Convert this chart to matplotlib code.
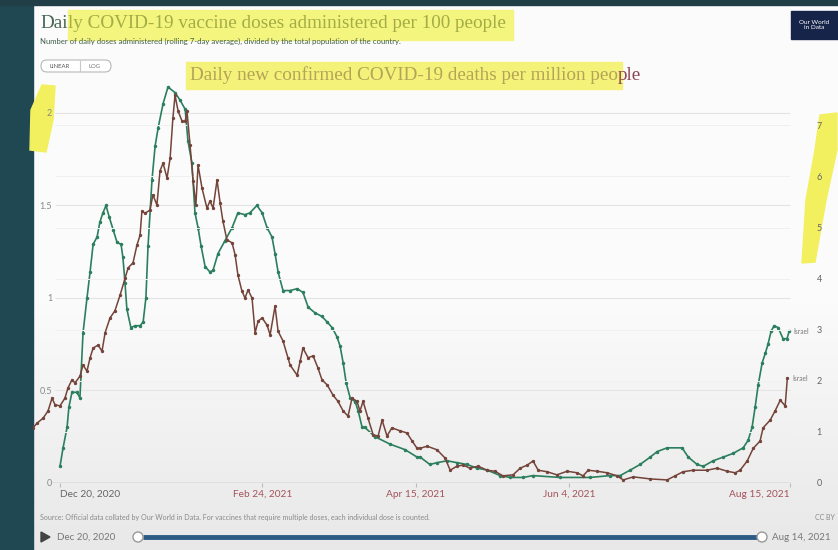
import numpy as np
import matplotlib.pyplot as plt
from matplotlib.patches import Rectangle, Polygon, FancyBboxPatch, Circle

W, H = 838, 550

# x values are days since Dec 20, 2020
vax_days = [0, 1.0, 2.3, 2.9, 3.9, 5.5, 6.5, 7.5, 8.8, 9.8, 10.8, 12.1, 13.0, 14.0, 15.0,
            16.0, 17.3, 18.6, 19.9, 20.5, 21.2, 21.8, 23.1, 24.5, 26.1, 27.1, 28.0, 28.7,
            30.0, 31.0, 32.0, 33.6, 35.2, 37.5, 39.1, 40.8, 41.7, 43.0, 44.0, 45.0, 46.0,
            47.3, 48.9, 49.9, 51.5, 53.8, 56.1, 58.0, 60.3, 61.9, 64.2, 65.9, 67.5, 69.1,
            70.1, 71.1, 72.7, 75.0, 77.3, 79.2, 80.9, 83.1, 85.4, 87.1, 88.7, 90.3, 91.3,
            92.3, 93.3, 94.6, 96.2, 97.2, 98.5, 99.4, 102.7, 107.6, 112.5, 116.4, 117.4,
            120.6, 122.9, 126.2, 129.4, 132.7, 136.0, 139.2, 143.5, 146.7, 151.0, 154.2,
            163.0, 172.8, 179.3, 182.6, 185.9, 189.1, 192.4, 194.7, 197.9, 202.8, 204.8,
            207.7, 209.7, 212.9, 216.2, 219.4, 222.7, 224.3, 225.6, 226.6, 227.6, 228.9,
            229.9, 230.8, 231.8, 232.8, 234.1, 235.7, 237.0, 237.7]
vax_doses = [0.09, 0.19, 0.30, 0.41, 0.49, 0.49, 0.46, 0.81, 1.00, 1.14, 1.29, 1.33, 1.41, 1.46, 1.50,
             1.44, 1.37, 1.30, 1.29, 1.22, 1.08, 0.94, 0.84, 0.85, 0.85, 0.87, 1.00, 1.28,
             1.64, 1.82, 1.92, 2.05, 2.14, 2.11, 2.07, 2.02, 1.85, 1.73, 1.46, 1.38, 1.28,
             1.17, 1.14, 1.15, 1.24, 1.31, 1.38, 1.46, 1.45, 1.46, 1.50, 1.46, 1.38, 1.33,
             1.24, 1.14, 1.04, 1.04, 1.05, 1.03, 0.95, 0.92, 0.90, 0.87, 0.84, 0.79, 0.74,
             0.65, 0.54, 0.46, 0.44, 0.39, 0.30, 0.30, 0.25, 0.21, 0.18, 0.14, 0.14,
             0.10, 0.11, 0.12, 0.11, 0.10, 0.08, 0.07, 0.04, 0.03, 0.03, 0.04,
             0.03, 0.03, 0.04, 0.04, 0.07, 0.10, 0.14, 0.17, 0.19, 0.19, 0.14,
             0.10, 0.09, 0.12, 0.14, 0.16, 0.19, 0.23, 0.30, 0.41, 0.53, 0.65,
             0.70, 0.75, 0.82, 0.85, 0.84, 0.78, 0.78, 0.82]

death_days = [-8.8, -7.5, -5.5, -3.9, -2.6, -1.6, 0, 1.6, 2.6, 3.9, 4.9, 6.5, 7.5, 8.8, 9.8,
              10.8, 12.4, 13.7, 14.7, 16.3, 17.9, 19.6, 21.2, 22.2, 23.8, 25.1, 26.1, 26.7,
              27.7, 29.3, 30.3, 31.6, 32.6, 33.6, 34.9, 35.9, 36.8, 37.5, 38.5, 39.8, 40.8,
              41.4, 42.4, 43.4, 44.3, 45.0, 46.3, 47.9, 48.9, 49.9, 51.2, 52.2, 53.1, 54.4,
              56.1, 57.1, 58.0, 59.3, 60.3, 61.3, 62.6, 63.6, 64.6, 65.9, 67.5, 68.5, 70.1,
              71.1, 72.7, 74.3, 75.0, 77.3, 78.3, 79.2, 80.9, 82.5, 84.1, 85.4, 87.1, 89.0,
              90.6, 92.3, 93.9, 95.2, 96.8, 97.8, 98.8, 100.4, 102.1, 103.7, 105.0, 106.6,
              108.2, 110.9, 113.1, 114.8, 116.4, 117.4, 119.7, 122.9, 125.5, 127.2, 129.4,
              131.4, 133.7, 136.3, 139.2, 141.8, 144.4, 147.7, 150.0, 152.3, 154.2, 155.9,
              158.8, 162.0, 165.3, 168.6, 170.5, 172.2, 175.1, 178.4, 181.6, 183.6, 186.9,
              192.4, 197.9, 200.5, 203.1, 206.4, 210.9, 214.2, 217.5, 220.1, 221.7, 224.0,
              226.0, 228.2, 229.2, 231.5, 233.1, 234.8, 236.4, 237.1]
deaths = [1.08, 1.17, 1.27, 1.41, 1.66, 1.53, 1.51, 1.66, 1.86, 2.02, 1.96, 2.09, 2.31, 2.19, 2.45,
          2.64, 2.70, 2.58, 2.94, 3.23, 3.37, 3.68, 4.01, 4.21, 4.31, 4.66, 4.85, 5.32,
          5.28, 5.34, 5.64, 5.44, 6.11, 6.26, 5.97, 6.36, 7.14, 7.59, 7.28, 7.08, 7.08,
          7.28, 6.61, 5.91, 5.44, 6.22, 5.77, 5.38, 5.52, 5.38, 5.93, 5.48, 5.13, 4.76,
          4.70, 4.46, 4.07, 3.76, 3.62, 3.78, 3.62, 2.94, 3.17, 3.23, 3.09, 2.90, 3.46,
          2.97, 2.78, 2.45, 2.31, 2.11, 2.39, 2.64, 2.45, 2.49, 2.25, 2.02, 1.92, 1.72,
          1.60, 1.41, 1.31, 1.66, 1.60, 1.41, 1.60, 1.27, 0.94, 0.92, 1.23, 0.92,
          1.08, 1.02, 0.98, 0.82, 0.68, 0.68, 0.72, 0.65, 0.49, 0.25, 0.33,
          0.35, 0.29, 0.33, 0.25, 0.23, 0.14, 0.16, 0.29, 0.35, 0.43, 0.25,
          0.22, 0.16, 0.23, 0.20, 0.14, 0.25, 0.23, 0.20, 0.14, 0.06, 0.12,
          0.08, 0.06, 0.14, 0.22, 0.25, 0.25, 0.29, 0.23, 0.20, 0.25, 0.43,
          0.68, 0.82, 1.08, 1.23, 1.41, 1.62, 1.51, 2.05]

tick_days = [0, 66, 116, 166, 238]
tick_labels = ["Dec 20, 2020", "Feb 24, 2021", "Apr 15, 2021", "Jun 4, 2021", "Aug 15, 2021"]
left_ticks = [0, 0.5, 1, 1.5, 2]
left_labels = ["0", "0.5", "1", "1.5", "2"]
right_ticks = [0, 1, 2, 3, 4, 5, 6, 7]

green = '#2b7f5e'
brown = '#74443a'

fig = plt.figure(figsize=(W / 100, H / 100), dpi=100)

# background drawn in pixel coordinates
bg = fig.add_axes([0, 0, 1, 1], zorder=-10)
bg.set_xlim(0, W)
bg.set_ylim(H, 0)
bg.axis('off')
shade = np.ones((H, 1))
rows = np.arange(H)
shade[:, 0] = np.where(rows < 300, 0.985, 0.985 - (rows - 300) / 250 * 0.075)
bg.imshow(np.dstack([shade, shade, shade]), extent=[0, W, H, 0], aspect='auto', zorder=0)
bg.add_patch(Rectangle((0, 0), 33, H, color='#1f4853', zorder=1))
bg.add_patch(Rectangle((0, 0), W, 5, color='#213d46', zorder=1))

# highlighter marks
bg.add_patch(Rectangle((68, 10), 445, 30, color='#f4f57e', zorder=1))
bg.add_patch(Rectangle((186, 62), 436, 27, color='#f5f27a', zorder=1))
bg.add_patch(Polygon([(42, 85), (55, 86), (53, 120), (46, 152), (30, 150), (31, 110)],
                     color='#f2f05e', zorder=2))
bg.add_patch(Polygon([(820, 115), (837, 113), (837, 150), (826, 200), (815, 262), (802, 263),
                      (806, 200), (815, 150)], color='#f2f05e', zorder=2))

serif = 'Liberation Serif'
head = bg.text(40, 23, "Dai", family=serif, fontsize=13.8, color='#45654f', va='center', zorder=4)
bg.annotate("ly COVID-19 vaccine doses administered per 100 people", xy=(1, 0.5), xycoords=head,
            va='center', family=serif, fontsize=13.8, color='#a3ad45', zorder=4)
bg.text(40, 41, "Number of daily doses administered (rolling 7-day average), divided by the total "
        "population of the country.", family='Lato', fontsize=5.6, color='#3f5d49',
        va='center', zorder=3)

head2 = bg.text(190, 75, "Daily new confirmed COVID-19 deaths per million peo", family=serif,
                fontsize=13.8, color='#b4a457', va='center', zorder=4)
bg.annotate("ple", xy=(1, 0.5), xycoords=head2, va='center', family=serif, fontsize=13.8,
            color='#8e4553', zorder=4)

# linear / log toggle
bg.add_patch(FancyBboxPatch((41, 60), 70, 12, boxstyle='round,pad=0,rounding_size=6',
                            fc='white', ec='#b8b8b8', lw=0.8, zorder=3))
bg.plot([80, 80], [61, 71], color='#c8c8c8', lw=0.8, zorder=4)
bg.text(60, 66, "LINEAR", family='Lato', fontsize=4.3, color='#555', ha='center', va='center', zorder=4)
bg.text(95, 66, "LOG", family='Lato', fontsize=4.3, color='#777', ha='center', va='center', zorder=4)

# logo
bg.add_patch(Rectangle((791, 11), 47, 28, color='#17244a', zorder=3))
bg.text(814, 25, "Our World\nin Data", family='Lato', fontsize=4.6, color='white',
        ha='center', va='center', linespacing=1.0, zorder=4)

# footer
bg.text(40, 517, "Source: Official data collated by Our World in Data. For vaccines that require "
        "multiple doses, each individual dose is counted.", family='Lato', fontsize=5.1,
        color='#8a8a8a', va='center', zorder=3)
bg.text(815, 517, "CC BY", family='Lato', fontsize=5, color='#8a8a8a', va='center', zorder=3)
bg.add_patch(Polygon([(41, 532), (41, 542), (50, 537)], color='#444', zorder=3))
bg.text(57, 537, "Dec 20, 2020", family='Lato', fontsize=7, color='#777', va='center', zorder=3)
bg.plot([143, 757], [537, 537], color='#2d5b85', lw=3.5, solid_capstyle='butt', zorder=3)
bg.add_patch(Circle((138, 537), 5, fc='white', ec='#999', lw=1, zorder=4))
bg.add_patch(Circle((762, 537), 5, fc='white', ec='#999', lw=1, zorder=4))
bg.text(772, 537, "Aug 14, 2021", family='Lato', fontsize=7, color='#777', va='center', zorder=3)

# main chart
ax = fig.add_axes([33 / W, 1 - 483 / H, 762 / W, 398 / H])
ax.patch.set_alpha(0)
ax2 = ax.twinx()
ax.set_xlim(-8.8, 239.6)
ax.set_ylim(0, 2.151)
ax2.set_ylim(0, 7.79)
for a in (ax, ax2):
    for s in a.spines.values():
        s.set_visible(False)

x0, x1 = (55 - 33) / 762, (790 - 33) / 762
ax.hlines(left_ticks[1:], x0, x1, transform=ax.get_yaxis_transform(), color='#e4e4e4', lw=0.8)
ax2.hlines(right_ticks[1:], x0, x1, transform=ax2.get_yaxis_transform(), color='#f0f0f0', lw=0.7)
ax.hlines(0, (50 - 33) / 762, x1, transform=ax.get_yaxis_transform(), color='#a9a9a9', lw=1)

ax.plot(vax_days, vax_doses, color=green, lw=1.2, marker='o', ms=1.5, zorder=3)
ax2.plot(death_days, deaths, color=brown, lw=1.1, marker='o', ms=1.4, zorder=3)
ax.text(vax_days[-1] + 1.5, vax_doses[-1], "Israel", family='Lato', fontsize=4.8, color='#777', va='center')
ax2.text(death_days[-1] + 1.8, deaths[-1], "Israel", family='Lato', fontsize=4.8, color='#777', va='center')

ax.set_xticks(tick_days, tick_labels)
ax.tick_params(axis='x', length=3, color='#bbb', pad=2, labelsize=7.3)
for i, lbl in enumerate(ax.get_xticklabels()):
    lbl.set_family('Lato')
    lbl.set_color('#666' if i == 0 else '#a4525a')
    if i == 0:
        lbl.set_ha('left')
    elif i == len(tick_labels) - 1:
        lbl.set_ha('right')

ax.set_yticks(left_ticks, left_labels)
ax.tick_params(axis='y', length=0, pad=-13.7, labelsize=6.5, labelcolor='#888')
ax2.set_yticks(right_ticks)
ax2.tick_params(axis='y', length=0, pad=15.5, labelsize=6.5, labelcolor='#666')
for lbl in ax.get_yticklabels() + ax2.get_yticklabels():
    lbl.set_family('Lato')

fig.savefig('out.png', dpi=100)
